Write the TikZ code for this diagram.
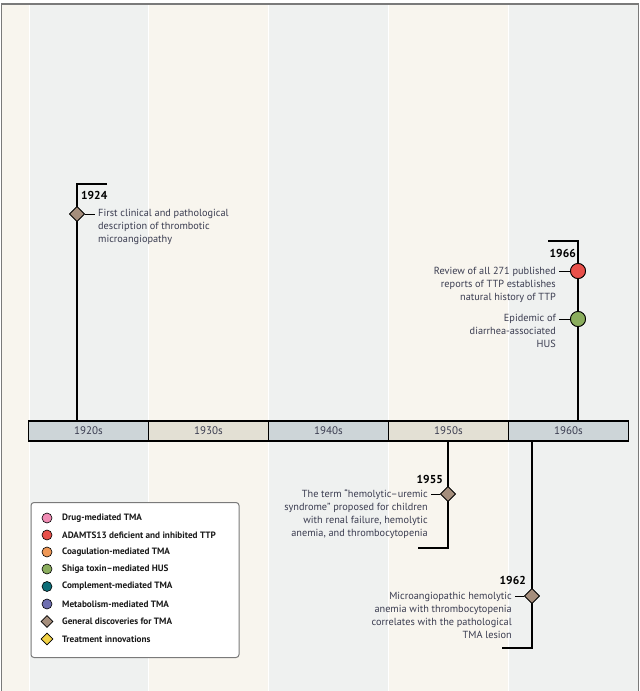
\documentclass[tikz,border=0pt]{standalone}
\usepackage{fontspec}
\setmainfont{PT Sans}
\usetikzlibrary{shapes.geometric}
\definecolor{graybg}{HTML}{EFF1F0}
\definecolor{creambg}{HTML}{F8F5EE}
\definecolor{framecol}{HTML}{7A7A7A}
\definecolor{decgray}{HTML}{CDD5D8}
\definecolor{decbeige}{HTML}{E3E0D4}
\definecolor{txt}{HTML}{3A3C50}
\definecolor{cbrown}{HTML}{A58E7C}
\definecolor{cpink}{HTML}{F08CB4}
\definecolor{cred}{HTML}{E8504A}
\definecolor{corange}{HTML}{EE9755}
\definecolor{cgreen}{HTML}{8BAE5E}
\definecolor{cteal}{HTML}{0E6E78}
\definecolor{cpurple}{HTML}{6E6EB0}
\definecolor{cyellow}{HTML}{F2D246}
\tikzset{
  decade/.style={draw=black, line width=1.4pt, minimum width=120pt, minimum height=20pt, inner sep=0pt, font=\fontsize{11}{12}\selectfont, text=txt},
  conn/.style={draw=black, line width=1.2pt},
  tick/.style={draw=black, line width=1pt},
  evdiamond/.style={diamond, draw=black, line width=0.8pt, fill=cbrown, minimum size=15pt, inner sep=0pt},
  evcircle/.style={circle, draw=black, line width=0.8pt, minimum size=15pt, inner sep=0pt},
  lcircle/.style={circle, draw=black, line width=0.6pt, minimum size=10pt, inner sep=0pt},
  ldiamond/.style={diamond, draw=black, line width=0.6pt, minimum size=12pt, inner sep=0pt},
  evtext/.style={font=\fontsize{10.3}{13}\selectfont, text=txt, inner sep=0pt},
  year/.style={font=\fontsize{11.5}{13}\selectfont\bfseries, text=black, inner sep=0pt},
  legtext/.style={font=\fontsize{9.2}{10}\selectfont\bfseries, text=black!90, inner sep=0pt, anchor=west},
}
\begin{document}
\begin{tikzpicture}[x=1pt,y=-1pt]
\useasboundingbox (0,0) rectangle (640,691);
% background bands
\fill[creambg] (2,4) rectangle (29,691);
\fill[graybg] (29,4) rectangle (148,691);
\fill[creambg] (148,4) rectangle (268,691);
\fill[graybg] (268,4) rectangle (388,691);
\fill[creambg] (388,4) rectangle (508,691);
\fill[graybg] (508,4) rectangle (638,691);
\foreach \x in {29,148,268,388,508} \draw[white, line width=0.8pt] (\x,4) -- (\x,691);
\draw[framecol, line width=1.5pt] (1.5,700) -- (1.5,4) -- (638.5,4) -- (638.5,700);
% timeline
\node[decade, fill=decgray] (d1920) at (88.5,431) {1920s};
\node[decade, fill=decbeige] (d1930) at (208.5,431) {1930s};
\node[decade, fill=decgray] (d1940) at (328.5,431) {1940s};
\node[decade, fill=decbeige] (d1950) at (448.5,431) {1950s};
\node[decade, fill=decgray] (d1960) at (568.5,431) {1960s};
% 1924
\coordinate (c1924) at (107,184);
\node[evdiamond] (m1924) at (77,214) {};
\draw[conn] (c1924) -- (c1924 -| m1924) -- (m1924 |- d1920.north);
\node[evdiamond] at (m1924) {};
\node[year, anchor=base west] (y1924) at (81,199) {1924};
\node[evtext, anchor=north west, align=left] (e1924) at (98,209.5) {First clinical and pathological\\description of thrombotic\\microangiopathy};
\draw[tick] (m1924.east) -- ([xshift=-3pt]m1924 -| e1924.west);
% 1966
\coordinate (c1966) at (548,241);
\node[evcircle, fill=cred] (m1966a) at (578,271) {};
\node[evcircle, fill=cgreen] (m1966b) at (578,319) {};
\draw[conn] (c1966) -- (c1966 -| m1966a) -- (m1966a |- d1960.north);
\node[evcircle, fill=cred] at (m1966a) {};
\node[evcircle, fill=cgreen] at (m1966b) {};
\node[year, anchor=base east] (y1966) at (576,257) {1966};
\node[evtext, anchor=north east, align=right] (e1966a) at (556,266.5) {Review of all 271 published\\reports of TTP establishes\\natural history of TTP};
\node[evtext, anchor=north east, align=right] (e1966b) at (556,314.5) {Epidemic of\\diarrhea-associated\\HUS};
\draw[tick] (m1966a.west) -- ([xshift=3pt]m1966a -| e1966a.east);
\draw[tick] (m1966b.west) -- ([xshift=3pt]m1966b -| e1966b.east);
% 1955
\coordinate (c1955) at (418,548);
\node[evdiamond] (m1955) at (448,494) {};
\draw[conn] (m1955 |- d1950.south) -- (c1955 -| m1955) -- (c1955);
\node[evdiamond] at (m1955) {};
\node[year, anchor=base east] (y1955) at (443,483) {1955};
\node[evtext, anchor=north east, align=right] (e1955) at (428,489.5) {The term “hemolytic–uremic\\syndrome” proposed for children\\with renal failure, hemolytic\\anemia, and thrombocytopenia};
\draw[tick] (m1955.west) -- ([xshift=3pt]m1955 -| e1955.east);
% 1962
\coordinate (c1962) at (502,648);
\node[evdiamond] (m1962) at (532,596) {};
\draw[conn] (m1962 |- d1960.south) -- (c1962 -| m1962) -- (c1962);
\node[evdiamond] at (m1962) {};
\node[year, anchor=base east] (y1962) at (526,584) {1962};
\node[evtext, anchor=north east, align=right] (e1962) at (512,591.5) {Microangiopathic hemolytic\\anemia with thrombocytopenia\\correlates with the pathological\\TMA lesion};
\draw[tick] (m1962.west) -- ([xshift=3pt]m1962 -| e1962.east);
% legend
\node[draw=framecol, line width=1pt, fill=white, rounded corners=3pt, minimum width=208pt, minimum height=155pt, anchor=north west] (legend) at (30.5,502) {};
\node[lcircle, fill=cpink] (l1) at (47,518) {};
\node[legtext] at (62,518) {Drug-mediated TMA};
\node[lcircle, fill=cred] (l2) at (47,535) {};
\node[legtext] at (62,535) {ADAMTS13 deficient and inhibited TTP};
\node[lcircle, fill=corange] (l3) at (47,552) {};
\node[legtext] at (62,552) {Coagulation-mediated TMA};
\node[lcircle, fill=cgreen] (l4) at (47,569) {};
\node[legtext] at (62,569) {Shiga toxin–mediated HUS};
\node[lcircle, fill=cteal] (l5) at (47,586.5) {};
\node[legtext] at (62,586.5) {Complement-mediated TMA};
\node[lcircle, fill=cpurple] (l6) at (47,604) {};
\node[legtext] at (62,604) {Metabolism-mediated TMA};
\node[ldiamond, fill=cbrown] (l7) at (47,621.5) {};
\node[legtext] at (62,621.5) {General discoveries for TMA};
\node[ldiamond, fill=cyellow] (l8) at (47,639) {};
\node[legtext] at (62,639) {Treatment innovations};
\end{tikzpicture}
\end{document}
